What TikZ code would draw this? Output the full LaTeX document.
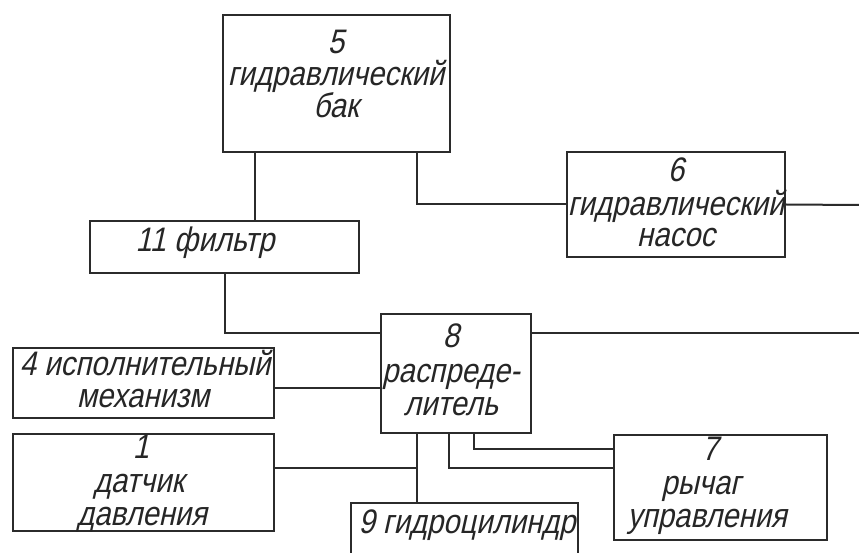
\documentclass[tikz,border=0pt]{standalone}
\usepackage{fontspec}
\newfontfamily\gost[FakeStretch=0.86,FakeSlant=0.22]{Liberation Sans}
\definecolor{ink}{HTML}{2B2B2B}
\definecolor{txtc}{HTML}{262626}
\begin{document}
\begin{tikzpicture}[x=1pt,y=-1pt,
  box/.style={draw=ink,line width=2.2pt,fill=white,inner sep=0pt},
  wire/.style={draw=ink,line width=2pt},
  lbl/.style={inner sep=0pt,anchor=base,text=txtc,font=\gost\fontsize{34}{34}\selectfont}]
\useasboundingbox (0,0) rectangle (859,553);
\clip (0,0) rectangle (859,553);
\fill[white] (0,0) rectangle (859,553);
% boxes
\node[box,minimum width=227pt,minimum height=137pt] (b5) at (336.5,83.5) {};
\node[box,minimum width=218pt,minimum height=105pt] (b6) at (676,204.5) {};
\node[box,minimum width=269pt,minimum height=52pt] (b11) at (224.5,247) {};
\node[box,minimum width=150pt,minimum height=119pt] (b8) at (456,373.5) {};
\node[box,minimum width=261pt,minimum height=70pt] (b4) at (143.5,383) {};
\node[box,minimum width=261pt,minimum height=97pt] (b1) at (143.5,482.5) {};
\node[box,minimum width=213pt,minimum height=105pt] (b7) at (720.5,487.5) {};
\node[box,minimum width=227pt,minimum height=77pt] (b9) at (464.5,541.5) {};
% helper coordinates
\coordinate (xa) at (255,0);
\coordinate (xb) at (417,0);
\coordinate (xc) at (225,0);
\coordinate (xd) at (449,0);
\coordinate (xe) at (474,0);
\coordinate (ya) at (0,333);
\coordinate (yb) at (0,388);
\coordinate (yc) at (0,468);
\coordinate (yd) at (0,449);
\coordinate (e1) at (859,205);
\coordinate (e2) at (859,333);
\coordinate (j1) at (417,468);
% connectors
\draw[wire] (b5.south -| xa) -- (b11.north -| xa);
\draw[wire] (b5.south -| xb) |- (b6.west);
\draw[wire] (b6.east) -- (e1);
\draw[wire] (b11.south -| xc) |- (b8.west |- ya);
\draw[wire] (b8.east |- e2) -- (e2);
\draw[wire] (b4.east |- yb) -- (b8.west |- yb);
\draw[wire] (b8.south -| xb) -- (b9.north -| xb);
\draw[wire] (b1.east |- j1) -- (j1);
\draw[wire] (b8.south -| xd) |- (b7.west |- yc);
\draw[wire] (b8.south -| xe) |- (b7.west |- yd);
% labels
\node[lbl] (t5a) at (336,54) {5};
\node[lbl] (t5b) at (336,86) {гидравлический};
\node[lbl] (t5c) at (336,118) {бак};
\node[lbl] (t6a) at (676,182) {6};
\node[lbl] (t6b) at (676,216) {гидравлический};
\node[lbl] (t6c) at (676,247) {насос};
\node[lbl] (t11) at (205,252) {11 фильтр};
\node[lbl] (t8a) at (451,347) {8};
\node[lbl] (t8b) at (451,382) {распреде-};
\node[lbl] (t8c) at (451,415) {литель};
\node[lbl] (t4a) at (145,375) {4 исполнительный};
\node[lbl] (t4b) at (143,407) {механизм};
\node[lbl] (t1a) at (141,458) {1};
\node[lbl] (t1b) at (139,492) {датчик};
\node[lbl] (t1c) at (142,525) {давления};
\node[lbl] (t7a) at (710,460) {7};
\node[lbl] (t7b) at (701,494) {рычаг};
\node[lbl] (t7c) at (707,527) {управления};
\node[lbl] (t9) at (467,533) {9 гидроцилиндр};
\end{tikzpicture}
\end{document}
